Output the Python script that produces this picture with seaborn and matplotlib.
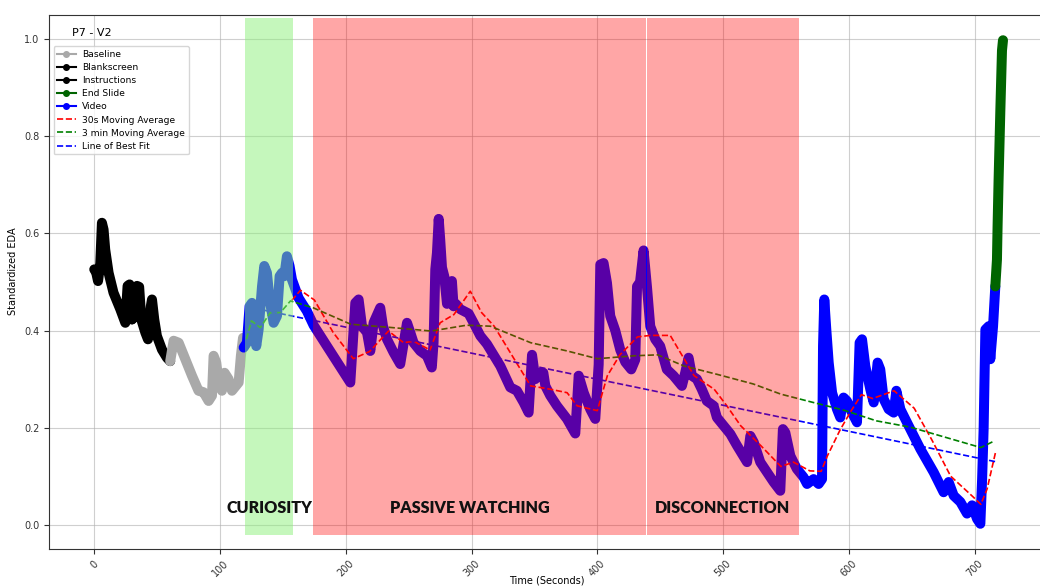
import numpy as np
import pandas as pd
import matplotlib
matplotlib.use("Agg")
import matplotlib.pyplot as plt
from matplotlib.lines import Line2D
import seaborn as sns

# ---- EDA trace, split by experiment phase (time in s, standardized EDA) ----
blank_t = [0, 1.5, 3, 4.8, 6.1, 7.4, 8.7, 11.4, 15.3, 20.7, 24.7, 26.5, 28.1, 30]
blank_y = [0.526, 0.520, 0.502, 0.539, 0.622, 0.608, 0.567, 0.519, 0.478, 0.444,
           0.416, 0.492, 0.495, 0.423]

instr_t = [30, 32.6, 34, 35.7, 37.4, 40.6, 42.7, 45, 45.9, 47.7, 49.8, 53.8, 57.8, 60.4]
instr_y = [0.423, 0.430, 0.492, 0.490, 0.423, 0.396, 0.382, 0.450, 0.464, 0.423,
           0.389, 0.361, 0.344, 0.337]

base_t = [60.4, 63.1, 67.1, 72.4, 77.7, 82.9, 86.9, 90.9, 93.6, 94.9, 97, 98.9,
          101.5, 103.6, 106.8, 109.5, 114.8, 116.6, 118.3, 119.5]
base_y = [0.337, 0.379, 0.375, 0.341, 0.307, 0.276, 0.273, 0.255, 0.266, 0.348,
          0.334, 0.293, 0.276, 0.313, 0.300, 0.276, 0.293, 0.348, 0.385, 0.368]

video_t = [118.8, 121.4, 123.5, 125.4, 127.2, 128.8, 130.7, 133.4, 135.2, 137.3,
           139.4, 142.6, 145.3, 147.4, 149.3, 151.1, 153.2, 155.3, 157.2, 162.5,
           169.1, 174.4, 185, 203.6, 207.6, 210.2, 212.9, 216.9, 219.5, 222.1,
           227.4, 229.6, 232.8, 238, 243.3, 248.7, 251.3, 253.9, 259.2, 264.5,
           268.4, 269.8, 271.2, 272.5, 273.9, 275.1, 276.5, 278.3, 280.5, 284.4,
           285.7, 287.5, 291, 297.7, 301.6, 307, 312.3, 322.9, 330.8, 336.1,
           341.4, 345.4, 348.1, 350.7, 354.7, 357.1, 358.7, 362.6, 367.9, 375.9,
           382.5, 385.2, 389.2, 394.4, 398.4, 401.1, 402.4, 405, 407.7, 410.3,
           414.3, 418.3, 422.3, 427, 430.2, 431.6, 434, 436.8, 439.5, 442.1,
           446.1, 450, 455.3, 460.6, 467.3, 469.9, 472.6, 475.2, 479.2, 483.1,
           487.1, 492.5, 495.1, 500.5, 505.8, 511.1, 519.1, 521.7, 524.4, 529.6,
           535, 540.2, 545.5, 547.6, 549.5, 553.5, 558.7, 564, 566.8, 572,
           576, 578.7, 579.5, 580.5, 582.1, 584, 586.7, 590.6, 593.2, 595.8,
           598.5, 602.5, 606.5, 608.6, 610.5, 613.1, 617.1, 619.8, 622.9, 625,
           627.7, 631.7, 635.7, 637.8, 641, 648.9, 656.9, 667.5, 675.4, 679.4,
           683.4, 688.7, 694, 698, 702, 704.6, 706, 707.2, 708.6, 711.3,
           712.5, 714.7, 716.5]
video_y = [0.365, 0.375, 0.450, 0.457, 0.409, 0.368, 0.402, 0.491, 0.533, 0.519,
           0.464, 0.416, 0.430, 0.512, 0.519, 0.512, 0.553, 0.533, 0.505, 0.467,
           0.440, 0.411, 0.368, 0.293, 0.457, 0.464, 0.409, 0.396, 0.358, 0.416,
           0.447, 0.409, 0.382, 0.355, 0.331, 0.416, 0.396, 0.375, 0.358, 0.348,
           0.324, 0.375, 0.526, 0.560, 0.630, 0.587, 0.530, 0.512, 0.455, 0.502,
           0.450, 0.455, 0.444, 0.435, 0.416, 0.389, 0.372, 0.327, 0.283, 0.276,
           0.252, 0.231, 0.350, 0.300, 0.313, 0.313, 0.286, 0.266, 0.245, 0.218,
           0.188, 0.307, 0.272, 0.238, 0.218, 0.330, 0.536, 0.539, 0.498, 0.430,
           0.400, 0.360, 0.335, 0.320, 0.340, 0.491, 0.500, 0.565, 0.490, 0.409,
           0.382, 0.368, 0.320, 0.307, 0.286, 0.313, 0.344, 0.307, 0.300, 0.279,
           0.255, 0.245, 0.221, 0.204, 0.187, 0.163, 0.129, 0.183, 0.170, 0.129,
           0.108, 0.088, 0.070, 0.197, 0.190, 0.142, 0.115, 0.098, 0.084, 0.094,
           0.084, 0.094, 0.368, 0.464, 0.402, 0.334, 0.272, 0.238, 0.221, 0.262,
           0.255, 0.231, 0.211, 0.375, 0.382, 0.327, 0.279, 0.252, 0.334, 0.320,
           0.259, 0.238, 0.231, 0.276, 0.238, 0.197, 0.156, 0.108, 0.067, 0.088,
           0.060, 0.047, 0.023, 0.040, 0.012, 0.002, 0.094, 0.197, 0.402, 0.409,
           0.341, 0.409, 0.491]

end_t = [716.5, 717.8, 718.3, 719.1, 720.5, 721.8, 722.6]
end_y = [0.491, 0.546, 0.615, 0.710, 0.854, 0.977, 0.998]

# ---- smoothed curves ----
ma30_t = [157, 164, 175, 190, 206, 219, 234, 246, 254, 267, 275, 286, 299, 308,
          318, 334, 347, 363, 376, 384, 400, 408, 418, 432, 442, 458, 466, 477,
          493, 503, 514, 530, 546, 556, 569, 578, 583, 593, 601, 610, 619, 636,
          652, 666, 681, 699, 705, 710, 717]
ma30_y = [0.462, 0.483, 0.463, 0.396, 0.342, 0.357, 0.399, 0.375, 0.378, 0.360,
          0.416, 0.433, 0.481, 0.437, 0.409, 0.341, 0.286, 0.279, 0.272, 0.245,
          0.235, 0.307, 0.350, 0.387, 0.390, 0.390, 0.355, 0.307, 0.279, 0.245,
          0.204, 0.163, 0.120, 0.129, 0.111, 0.110, 0.142, 0.195, 0.231, 0.268,
          0.260, 0.276, 0.240, 0.175, 0.100, 0.057, 0.042, 0.074, 0.153]

ma180_t = [121, 125, 132, 140, 148, 156, 174, 204, 233, 268, 296, 315, 347, 376,
           400, 429, 448, 469, 495, 524, 546, 570, 596, 622, 649, 673, 705, 716]
ma180_y = [0.382, 0.420, 0.406, 0.437, 0.437, 0.461, 0.447, 0.413, 0.407, 0.399,
           0.411, 0.409, 0.375, 0.358, 0.342, 0.348, 0.350, 0.327, 0.310, 0.290,
           0.269, 0.253, 0.236, 0.214, 0.201, 0.183, 0.159, 0.173]

fit_t = [120, 716.5]
fit_y = [0.450, 0.130]

# ---- annotated phases ----
phase_names = ["CURIOSITY", "PASSIVE WATCHING", "DISCONNECTION"]
phase_start = [120, 174, 439.5]
phase_end = [158, 438.7, 560]
phase_colors = ["#8cf07a", "red", "red"]
phase_alpha = [0.5, 0.35, 0.35]
phase_label_x = [139.5, 299, 499.5]

fig = plt.figure(figsize=(10.4, 5.86), dpi=100)
ax = fig.add_axes([0.0471, 0.0631, 0.9577, 0.9113])

trace_kw = dict(linewidth=7.2, solid_capstyle="round", solid_joinstyle="round",
                sort=False, estimator=None, legend=False, ax=ax)
segments = [
    (blank_t, blank_y, "black"),
    (instr_t, instr_y, "black"),
    (base_t, base_y, "darkgray"),
    (video_t, video_y, "blue"),
    (end_t, end_y, "darkgreen"),
]
for t, y, c in segments:
    sns.lineplot(x=t, y=y, color=c, **trace_kw)

dash_kw = dict(linewidth=1.2, linestyle="--", sort=False, estimator=None,
               legend=False, ax=ax)
sns.lineplot(x=ma30_t, y=ma30_y, color="red", **dash_kw)
sns.lineplot(x=ma180_t, y=ma180_y, color="green", **dash_kw)
sns.lineplot(x=fit_t, y=fit_y, color="blue", **dash_kw)

for name, x0, x1, c, a, lx in zip(phase_names, phase_start, phase_end,
                                   phase_colors, phase_alpha, phase_label_x):
    ax.axvspan(x0, x1, ymin=0.027, ymax=0.994, color=c, alpha=a, lw=0, zorder=5)
    ax.text(lx, 0.035, name, ha="center", va="center", fontsize=11.6,
            fontweight="heavy", family=["Lato", "DejaVu Sans"], color="#111111",
            zorder=6)

ax.set_xlim(-36, 756)
ax.set_ylim(-0.05, 1.05)
ax.grid(True, color="#b0b0b0", linewidth=0.8, alpha=0.6)
ax.set_axisbelow(True)
for s in ax.spines.values():
    s.set_color("#333333")
ax.tick_params(labelsize=7, colors="#333333")
ax.set_xticks([0, 100, 200, 300, 400, 500, 600, 700])
ax.set_yticks([0.0, 0.2, 0.4, 0.6, 0.8, 1.0])
plt.setp(ax.get_xticklabels(), rotation=45)
ax.set_xlabel("Time (Seconds)", fontsize=7, labelpad=-2.5)
ax.set_ylabel("Standardized EDA", fontsize=7)
ax.yaxis.set_label_coords(-0.031, 0.52)

ax.text(0.023, 0.975, "P7 - V2", transform=ax.transAxes, ha="left", va="top",
        fontsize=8)

handles = [
    Line2D([], [], color="darkgray", marker="o", markersize=4, lw=1.5),
    Line2D([], [], color="black", marker="o", markersize=4, lw=1.5),
    Line2D([], [], color="black", marker="o", markersize=4, lw=1.5),
    Line2D([], [], color="darkgreen", marker="o", markersize=4, lw=1.5),
    Line2D([], [], color="blue", marker="o", markersize=4, lw=1.5),
    Line2D([], [], color="red", ls="--", lw=1.2),
    Line2D([], [], color="green", ls="--", lw=1.2),
    Line2D([], [], color="blue", ls="--", lw=1.2),
]
labels = ["Baseline", "Blankscreen", "Instructions", "End Slide", "Video",
          "30s Moving Average", "3 min Moving Average", "Line of Best Fit"]
leg = ax.legend(handles, labels, loc="upper left", bbox_to_anchor=(0, 0.95),
                fontsize=6.6, labelspacing=0.45, handlelength=2.0,
                handletextpad=0.7, framealpha=0.8)
leg.set_zorder(10)

fig.savefig("out.png", dpi=100)
